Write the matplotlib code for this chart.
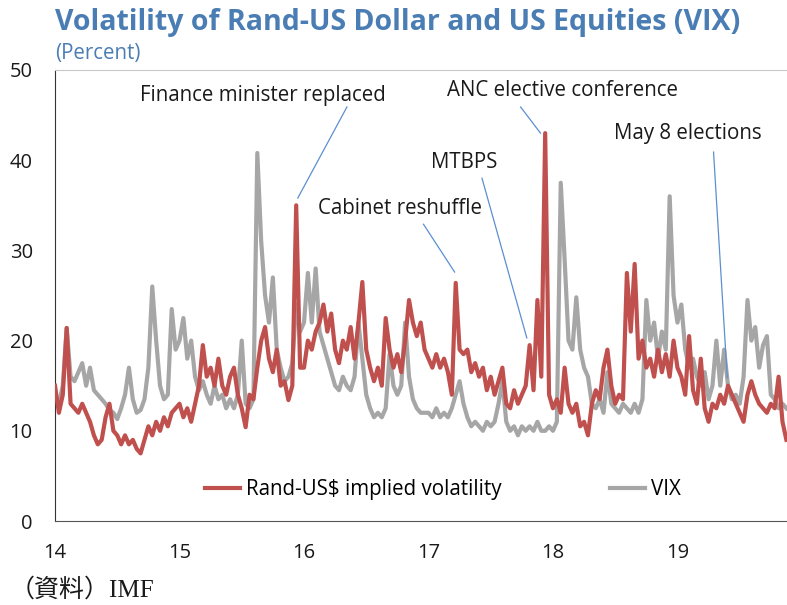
import numpy as np
import matplotlib
matplotlib.use("Agg")
import matplotlib.pyplot as plt

plt.rcParams['font.family'] = ['Open Sans', 'DejaVu Sans']

# sampled roughly every 11-12 days, starting Jan 2014 (year label 14)
start_year = 14
step = 1 / 32

rand_vol = [15, 12, 14, 21.4, 13, 12.5, 12, 13, 12, 11, 9.5, 8.5, 9, 11.5, 13, 10,
            9.5, 8.5, 9.5, 8.5, 9, 8, 7.5, 9, 10.5, 9.5, 11, 10, 11.5, 10.5, 12, 12.5,
            13, 11.5, 12.5, 11, 13, 15, 19.5, 16, 17, 15, 18, 15, 14, 16, 17, 14,
            12.5, 10.4, 14, 13.5, 17, 20, 21.5, 18, 16.5, 19, 15, 15.5, 13.4, 15, 35, 17,
            17, 20, 19, 21, 22, 24, 21, 23, 19, 17.5, 20, 19, 21.5, 18, 22, 26.5,
            19, 17, 15.5, 17, 15, 22.5, 19, 17, 18.5, 16.5, 20, 24.5, 22, 20.5, 22, 19,
            18, 17, 18.5, 17, 18, 16.5, 14, 26.4, 19, 18.5, 19, 16.5, 17.5, 16, 17, 14.5,
            16, 14, 15.5, 17, 13, 12.5, 14.5, 13, 14, 15, 19.5, 14.5, 24.5, 16, 43, 14,
            12.5, 13.5, 12, 17, 13, 12, 13, 10.5, 11, 9.5, 13, 14.5, 13.5, 17, 19, 15,
            13, 14, 13.5, 27.5, 21, 28.5, 18, 20, 17, 18, 16, 19, 16.5, 18.5, 16, 20,
            17, 16, 14, 20.5, 14.5, 13, 18, 12.5, 11, 13, 12.5, 14, 13, 15, 14, 13,
            12, 11, 14, 15.5, 14, 13, 12.5, 12, 13, 12.5, 16, 11, 9]

vix = [14, 13, 15, 21.4, 16, 15.5, 16.5, 17.5, 15, 17, 14.5, 14, 13.5, 13, 12.3, 12,
       11.3, 12.5, 14, 17, 13.5, 12, 12.3, 13.5, 17, 26, 20, 15, 13.5, 14, 23.5, 19,
       20, 22.5, 18, 20, 16, 14.5, 15.5, 14, 13, 15, 13.5, 14, 12.5, 13.5, 12.5, 14,
       20, 13, 12.5, 13.5, 40.8, 31, 25, 22, 27, 19, 17, 15.5, 16, 17.5, 24, 21,
       22, 27.5, 22, 28, 21, 19.5, 18, 16.5, 15, 14.5, 16, 15, 14.5, 16, 22, 18,
       14, 12.5, 11.5, 12, 11.5, 12.5, 18.5, 15, 14, 15, 22, 16, 13.5, 12.5, 12, 12,
       12, 11.5, 12.5, 11.5, 12, 11.5, 12.5, 14, 15.5, 13, 11.5, 10.5, 11, 10.5, 10, 11,
       10.5, 11, 13, 15.5, 11, 10, 10.5, 9.5, 10.5, 10, 10.5, 10, 11, 10, 10, 10.5,
       10, 11, 37.5, 29, 20, 19, 24.8, 19, 17, 16, 13, 12.5, 13.5, 12, 16.5, 13,
       12.5, 12, 13, 12.5, 12, 13, 12, 13.5, 24.5, 20, 22, 18, 21, 19, 36, 25,
       22, 24, 19, 17, 18, 16, 15, 16.5, 13.5, 15, 20, 15, 19, 15, 13.5, 14,
       13, 16, 24.5, 20, 21.5, 17, 19.5, 20.5, 14, 13.5, 12.5, 13, 12.5]

years = [14, 15, 16, 17, 18, 19]

# (label, text position, line start, line end)
events = [
    ("Finance minister replaced", (15.67, 47.2), (16.345, 45.9), (15.95, 35.8)),
    ("Cabinet reshuffle", (16.77, 34.7), (16.96, 32.9), (17.21, 27.6)),
    ("MTBPS", (17.29, 39.7), (17.43, 38.0), (17.79, 20.3)),
    ("ANC elective conference", (18.08, 47.7), (17.74, 45.9), (17.90, 43.0)),
    ("May 8 elections", (19.08, 43.0), (19.29, 40.9), (19.40, 15.9)),
]

t = start_year + step * np.arange(len(vix))

fig = plt.figure(figsize=(7.87, 6.05), dpi=100)
ax = fig.add_axes([0.0699, 0.1388, 0.9301, 0.7455])

ax.plot(t, vix, color='#a6a6a6', lw=3, label='VIX', zorder=2)
ax.plot(t, rand_vol, color='#c0504d', lw=3, label=r'Rand-US\$ implied volatility', zorder=3)

for label, txt, p0, p1 in events:
    ax.plot([p0[0], p1[0]], [p0[1], p1[1]], color='#5b8fd0', lw=0.9, zorder=4)
    ax.text(txt[0], txt[1], label, ha='center', va='center', fontsize=14.8, color='#1a1a1a')

ax.set_xlim(14, 19.88)
ax.set_ylim(0, 50)
ax.set_yticks([0, 10, 20, 30, 40, 50])
ax.set_xticks(years)
ax.set_xticklabels([str(y) for y in years])
ax.tick_params(axis='both', length=0, labelsize=14.5, colors='#1a1a1a')
ax.tick_params(axis='x', pad=16)
ax.tick_params(axis='y', pad=16)

ax.spines['right'].set_visible(False)
ax.spines['top'].set_color('#c8c8c8')
ax.spines['left'].set_color('#333333')
ax.spines['bottom'].set_color('#555555')

h, l = ax.get_legend_handles_labels()
ax.legend([h[1], h[0]], [l[1], l[0]], loc='center', bbox_to_anchor=(0.53, 0.069), ncol=2,
          frameon=False, fontsize=14.8, handlelength=1.7, handletextpad=0.3,
          columnspacing=5.3)

fig.text(0.0699, 0.963, 'Volatility of Rand-US Dollar and US Equities (VIX)',
         fontsize=20.5, fontweight='bold', color='#4a7db3', va='center')
fig.text(0.0699, 0.912, '(Percent)', fontsize=14.8, color='#4a7db3', va='center')
fig.text(0.012, 0.025, '（資料）IMF', fontsize=18,
         family=['Liberation Serif', 'Noto Sans CJK JP'], va='center', color='#1a1a1a')

fig.savefig('out.png', dpi=100)
